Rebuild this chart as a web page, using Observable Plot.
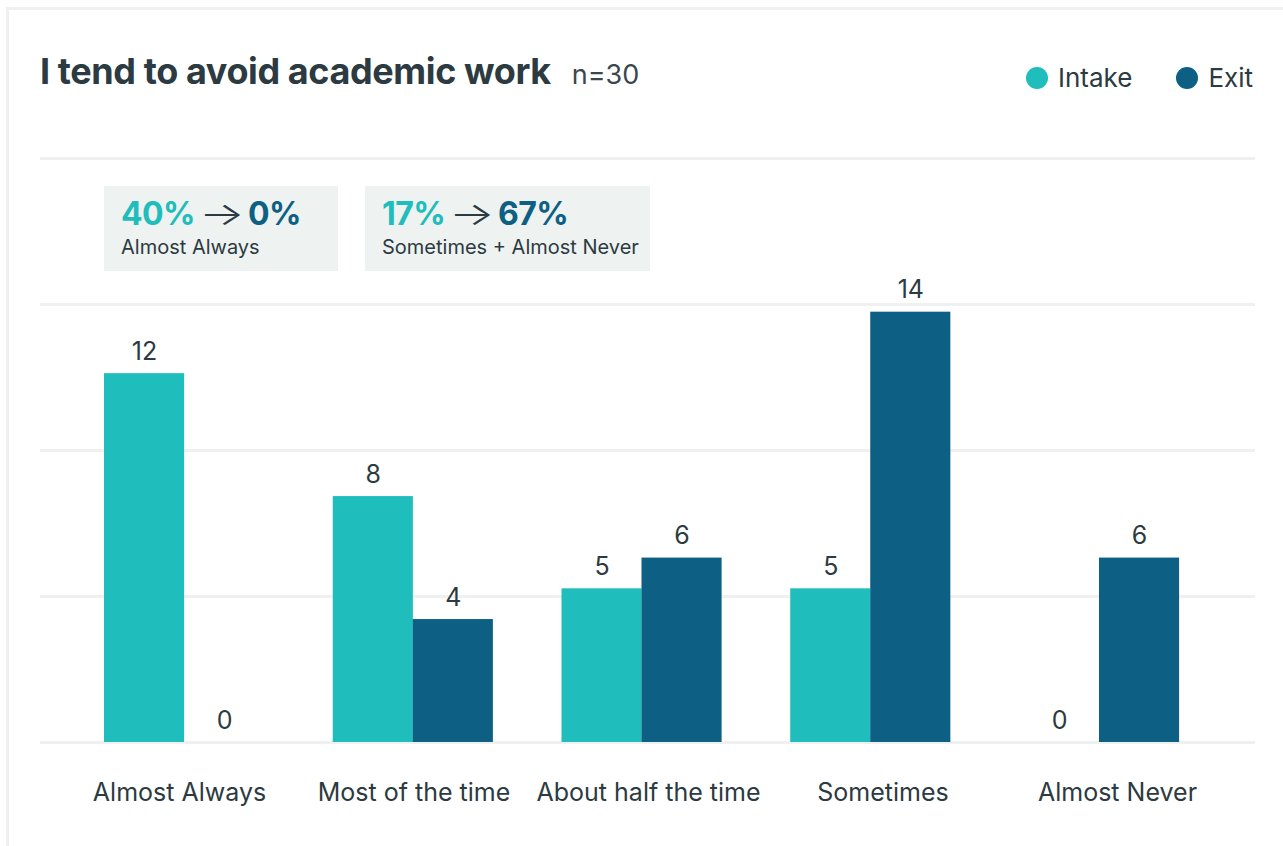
<!DOCTYPE html>
<html>
<head>
<meta charset="utf-8">
<script src="https://cdn.jsdelivr.net/npm/d3@7"></script>
<script src="https://cdn.jsdelivr.net/npm/@observablehq/plot@0.6"></script>
<style>
  html, body { margin: 0; padding: 0; background: #fff; }
  body { width: 1283px; height: 846px; position: relative; overflow: hidden; font-family: Inter, "Noto Sans", sans-serif; color: #2c3a41; }
  .card { position: absolute; left: 6px; top: 7px; width: 1320px; height: 900px; border: 3px solid #eef1f0; box-sizing: border-box; }
  .title { position: absolute; left: 40px; top: 49px; font-size: 36px; font-weight: 700; letter-spacing: -0.4px; white-space: nowrap; }
  .title .n { font-size: 27px; font-weight: 400; color: #3b474d; margin-left: 21px; letter-spacing: 0; }
  .legend { position: absolute; top: 62px; right: 30px; display: flex; gap: 44px; font-size: 26px; }
  .legend .item { display: flex; align-items: center; gap: 10px; }
  .legend .dot { width: 22px; height: 22px; border-radius: 50%; display: inline-block; }
  .layer { position: absolute; left: 0; top: 120px; }
  .layer svg { display: block; }
  #axis { pointer-events: none; }
  .note { position: absolute; top: 186px; height: 85px; background: #eef2f1; box-sizing: border-box; padding: 8px 0 0 17px; }
  .note .big { font-size: 32px; font-weight: 700; letter-spacing: -0.6px; line-height: 40px; white-space: nowrap; }
  .note .arrow { display: inline-block; width: 35px; margin: 0 9px; text-align: center; font-weight: 300; color: #2c3a41; transform: scaleX(1.5); }
  .note .small { font-size: 20px; line-height: 26px; white-space: nowrap; }
</style>
</head>
<body>
<div class="card"></div>
<div class="title">I tend to avoid academic work<span class="n">n=30</span></div>
<div class="legend" id="legend"></div>
<div class="layer" id="chart"></div>
<div class="layer" id="axis"></div>
<div id="notes"></div>
<script>
const categories = ["Almost Always", "Most of the time", "About half the time", "Sometimes", "Almost Never"];
const intakeValues = [12, 8, 5, 5, 0];
const exitValues = [0, 4, 6, 14, 6];
const seriesNames = ["Intake", "Exit"];
const seriesColors = ["#1fbdbb", "#0d5f83"];
const gridValues = [0, 4.75, 9.5, 14.25, 19];
const noteFrom = ["40%", "17%"];
const noteTo = ["0%", "67%"];
const noteLabels = ["Almost Always", "Sometimes + Almost Never"];
const noteLeft = [104, 365];
const noteWidth = [234, 285];

const data = categories.flatMap((c, i) => [
  {category: c, series: "Intake", value: intakeValues[i]},
  {category: c, series: "Exit", value: exitValues[i]}
]);
const intakeData = data.filter(d => d.series === "Intake");
const exitData = data.filter(d => d.series === "Exit");
const textColor = "#2c3a41";
const font = "Inter, 'Noto Sans', sans-serif";

const chart = Plot.plot({
  width: 1283,
  height: 726,
  marginLeft: 40,
  marginRight: 28,
  marginTop: 38,
  marginBottom: 104,
  style: {fontFamily: font, fontSize: "25px", color: textColor, background: "transparent"},
  x: {domain: categories, range: [69.7, 1213.4], paddingInner: 0.3, paddingOuter: 0.15, round: false, axis: null},
  y: {domain: [0, 19], axis: null},
  marks: [
    Plot.ruleY(gridValues, {stroke: "#eef1f0", strokeWidth: 3}),
    Plot.barY(intakeData, {x: "category", y: "value", fill: seriesColors[0], insetRight: 80}),
    Plot.barY(exitData, {x: "category", y: "value", fill: seriesColors[1], insetLeft: 80}),
    Plot.text(intakeData, {x: "category", y: "value", text: d => String(d.value), dx: -40, dy: -22, fontSize: 25, fill: textColor}),
    Plot.text(exitData, {x: "category", y: "value", text: d => String(d.value), dx: 40, dy: -22, fontSize: 25, fill: textColor})
  ]
});
document.getElementById("chart").appendChild(chart);

// category axis (labels sit on their own, slightly wider, band layout)
const axis = Plot.plot({
  width: 1283,
  height: 726,
  marginLeft: 40,
  marginRight: 28,
  marginTop: 38,
  marginBottom: 104,
  style: {fontFamily: font, fontSize: "25px", color: textColor, background: "transparent"},
  x: {type: "band", domain: categories, range: [61.75, 1234.25], padding: 0, round: false, tickSize: 0, tickPadding: 41, label: null},
  y: {domain: [0, 19], axis: null},
  marks: [
    Plot.barY(categories, {x: d => d, y: () => 0, fill: "none"})
  ]
});
document.getElementById("axis").appendChild(axis);

const legend = document.getElementById("legend");
seriesNames.forEach((s, i) => {
  const item = document.createElement("div");
  item.className = "item";
  item.innerHTML = `<span class="dot" style="background:${seriesColors[i]}"></span><span>${s}</span>`;
  legend.appendChild(item);
});

const notes = document.getElementById("notes");
noteLabels.forEach((lab, i) => {
  const n = document.createElement("div");
  n.className = "note";
  n.style.left = noteLeft[i] + "px";
  n.style.width = noteWidth[i] + "px";
  n.innerHTML = `<div class="big"><span style="color:${seriesColors[0]}">${noteFrom[i]}</span><span class="arrow">→</span><span style="color:${seriesColors[1]}">${noteTo[i]}</span></div><div class="small">${lab}</div>`;
  notes.appendChild(n);
});
</script>
</body>
</html>
